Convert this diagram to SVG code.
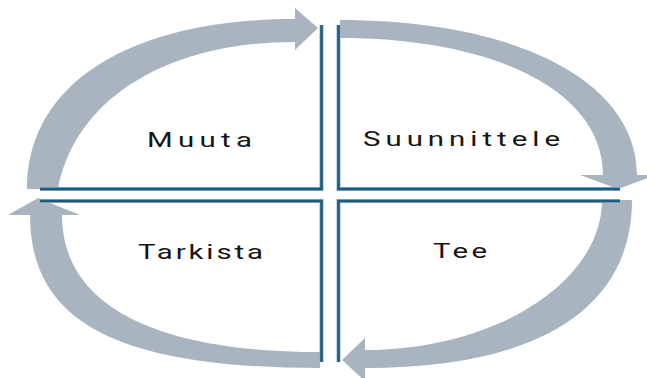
<svg xmlns="http://www.w3.org/2000/svg" width="647" height="378" viewBox="0 0 647 378">
  <style>
    .arc { fill: #a9b4c1; stroke: none; }
    .halo { fill: none; stroke: #8fb0c4; stroke-width: 4; stroke-linejoin: miter; }
    .edge { fill: none; stroke: #1f5b7d; stroke-width: 2.6; stroke-linejoin: miter; }
    .lbl { font-family: Roboto, "Liberation Sans", sans-serif; font-size: 21px; font-weight: 400; fill: #151515; text-anchor: middle; }
  </style>
  <rect x="0" y="0" width="647" height="378" fill="#ffffff"/>
  <g id="connectors">
    <path class="arc" d="M27,189 C27,84 129,19 295,19 L295,8 L318,28 L295,50 L295,42 C165,42 75,100 58,189 Z"/>
    <path class="arc" d="M340,20 C518,20 637,82 637,175 L656,175 L618,189 L580,175 L603,175 C603,93 498,38 340,38 Z"/>
    <path class="arc" d="M632,200 C632,309 538,368 365,368 L365,381 L342,360 L365,338 L365,350 C495,350 602,282 602,200 Z"/>
    <path class="arc" d="M320,368 C117,368 30,322 30,215 L8,215 L38,198 L80,215 L62,215 C62,304 152,352 320,352 Z"/>
  </g>
  <g id="muuta">
    <path class="halo" d="M40,189 H321.5 V25"/>
    <path class="edge" d="M40,189 H321.5 V25"/>
    <text class="lbl" transform="translate(199.5,147) scale(1.4,1)" x="0" y="0" textLength="75" lengthAdjust="spacing">Muuta</text>
  </g>
  <g id="suunnittele">
    <path class="halo" d="M338.5,25 V189 H620"/>
    <path class="edge" d="M338.5,25 V189 H620"/>
    <text class="lbl" transform="translate(461.5,146) scale(1.4,1)" x="0" y="0" textLength="140.7" lengthAdjust="spacing">Suunnittele</text>
  </g>
  <g id="tarkista">
    <path class="halo" d="M40,201 H321.5 V362"/>
    <path class="edge" d="M40,201 H321.5 V362"/>
    <text class="lbl" transform="translate(200.5,259) scale(1.4,1)" x="0" y="0" textLength="89.3" lengthAdjust="spacing">Tarkista</text>
  </g>
  <g id="tee">
    <path class="halo" d="M338.5,362 V201 H620"/>
    <path class="edge" d="M338.5,362 V201 H620"/>
    <text class="lbl" transform="translate(460,258) scale(1.4,1)" x="0" y="0" textLength="38.6" lengthAdjust="spacing">Tee</text>
  </g>
</svg>
